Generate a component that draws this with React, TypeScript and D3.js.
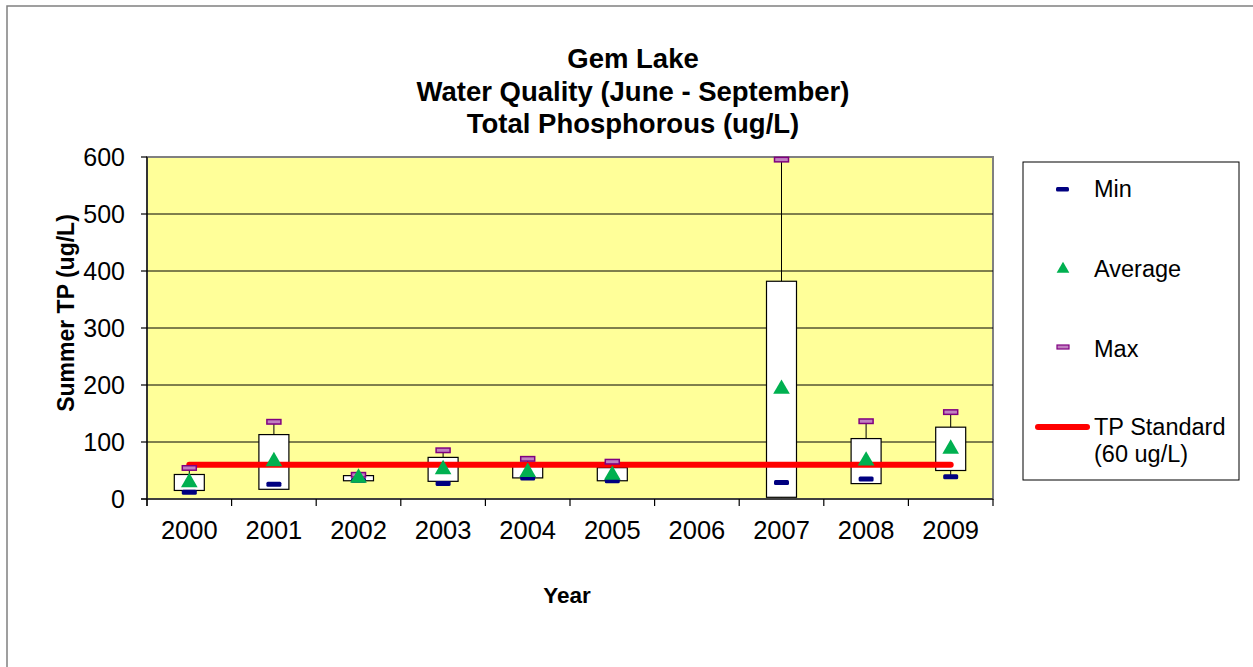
import React from 'react';
import * as d3 from 'd3';

const years = ['2000', '2001', '2002', '2003', '2004', '2005', '2006', '2007', '2008', '2009'];
const minVals: (number | null)[] = [12, 26, 33, 27, 37, 32, null, 29, 35, 39];
const avgVals: (number | null)[] = [29, 66, 37, 52, 47, 42, null, 193, 67, 88];
const maxVals: (number | null)[] = [54, 135, 42, 85, 70, 65, null, 595, 136, 152];
const boxLow: (number | null)[] = [15, 17, 32, 31, 37, 32, null, 3, 27, 50];
const boxHigh: (number | null)[] = [43, 113, 41, 73, 58, 55, null, 382, 106, 126];
const tpStandard = 60;
const yTicks = [0, 100, 200, 300, 400, 500, 600];
const titleLines = ['Gem Lake', 'Water Quality (June - September)', 'Total Phosphorous (ug/L)'];

const W = 1253;
const H = 667;
const plot = { left: 147, right: 993, top: 157, bottom: 499 };
const FONT = 'Liberation Sans, Arial, sans-serif';

export default function App() {
  const x = d3.scaleBand<string>().domain(years).range([plot.left, plot.right]).padding(0);
  const y = d3.scaleLinear().domain([0, 600]).range([plot.bottom, plot.top]);
  const bw = 30;
  const cx = (yr: string) => (x(yr) as number) + x.bandwidth() / 2;
  const tri = d3.symbol().type(d3.symbolTriangle).size(120);
  const boundaries = years.map((yr) => x(yr) as number).concat([plot.right]);

  return (
    <svg width={W} height={H} style={{ position: 'absolute', left: 0, top: 0 }} fontFamily={FONT}>
      <rect x={0} y={0} width={W} height={H} fill="#fff" />
      <rect x={7} y={6} width={W + 20} height={H + 20} fill="none" stroke="#808080" strokeWidth={1.5} />

      {/* title */}
      {titleLines.map((t, i) => (
        <text key={t} x={633} y={68 + i * 32.5} textAnchor="middle" fontSize={27.5} fontWeight="bold" fill="#000">
          {t}
        </text>
      ))}

      {/* plot area */}
      <rect x={plot.left} y={plot.top} width={plot.right - plot.left} height={plot.bottom - plot.top} fill="#FFFF99" stroke="#808080" strokeWidth={2} />
      {yTicks.filter((v) => v > 0 && v < 600).map((v) => (
        <line key={v} x1={plot.left} x2={plot.right} y1={y(v)} y2={y(v)} stroke="#000" strokeWidth={1} />
      ))}

      {/* axes */}
      <line x1={plot.left} x2={plot.left} y1={plot.top} y2={plot.bottom + 7} stroke="#000" strokeWidth={1.2} />
      <line x1={plot.left - 6} x2={plot.right} y1={plot.bottom} y2={plot.bottom} stroke="#000" strokeWidth={1.2} />
      {yTicks.map((v) => (
        <g key={v}>
          <line x1={plot.left - 6} x2={plot.left} y1={y(v)} y2={y(v)} stroke="#000" strokeWidth={1.2} />
          <text x={125} y={y(v)} dy="0.35em" textAnchor="end" fontSize={25} fill="#000">
            {v}
          </text>
        </g>
      ))}
      {boundaries.map((b, i) => (
        <line key={i} x1={b} x2={b} y1={plot.bottom} y2={plot.bottom + 7} stroke="#000" strokeWidth={1.2} />
      ))}
      {years.map((yr) => (
        <text key={yr} x={cx(yr)} y={539} textAnchor="middle" fontSize={25.5} fill="#000">
          {yr}
        </text>
      ))}
      <text x={567} y={603} textAnchor="middle" fontSize={22.5} fontWeight="bold">Year</text>
      <text transform={`translate(74,313) rotate(-90)`} textAnchor="middle" fontSize={23} fontWeight="bold">
        Summer TP (ug/L)
      </text>

      {/* boxes */}
      {years.map((yr, i) => {
        const mn = minVals[i], mx = maxVals[i], lo = boxLow[i], hi = boxHigh[i], av = avgVals[i];
        if (mn == null || mx == null || lo == null || hi == null || av == null) return null;
        const c = cx(yr);
        return (
          <g key={yr}>
            <line x1={c} x2={c} y1={y(Math.min(mn, lo))} y2={y(Math.max(mx, hi))} stroke="#000" strokeWidth={1} />
            <rect x={c - bw / 2} y={y(hi)} width={bw} height={y(lo) - y(hi)} fill="#fff" stroke="#000" strokeWidth={1.2} />
          </g>
        );
      })}

      {/* TP standard */}
      <line x1={cx(years[0])} x2={cx(years[years.length - 1])} y1={y(tpStandard)} y2={y(tpStandard)} stroke="#FF0000" strokeWidth={6} strokeLinecap="round" />

      {/* markers */}
      {years.map((yr, i) => {
        const mn = minVals[i], mx = maxVals[i], av = avgVals[i];
        if (mn == null || mx == null || av == null) return null;
        const c = cx(yr);
        return (
          <g key={yr}>
            <rect x={c - 7.5} y={y(mn) - 2.5} width={15} height={5} rx={1.5} fill="#000080" />
            <rect x={c - 7} y={y(mx) - 2.5} width={14} height={4.5} fill="#C080C0" stroke="#800080" strokeWidth={1.5} />
            <path d={tri() as string} transform={`translate(${c},${y(av)})`} fill="#00B050" />
          </g>
        );
      })}

      {/* legend */}
      <rect x={1023} y={162} width={216} height={318} fill="#fff" stroke="#000" strokeWidth={1} />
      <rect x={1056} y={187} width={13} height={4.5} rx={1.5} fill="#000080" />
      <text x={1094} y={197} fontSize={23.5}>Min</text>
      <path d={d3.symbol().type(d3.symbolTriangle).size(70)() as string} transform="translate(1063,269)" fill="#00B050" />
      <text x={1094} y={277} fontSize={23.5}>Average</text>
      <rect x={1057} y={345} width={12} height={4} fill="#C080C0" stroke="#800080" strokeWidth={1.2} />
      <text x={1094} y={357} fontSize={23.5}>Max</text>
      <line x1={1038} x2={1087} y1={427} y2={427} stroke="#FF0000" strokeWidth={6} strokeLinecap="round" />
      <text x={1094} y={435} fontSize={23.5}>TP Standard</text>
      <text x={1094} y={462} fontSize={23.5}>(60 ug/L)</text>
    </svg>
  );
}
